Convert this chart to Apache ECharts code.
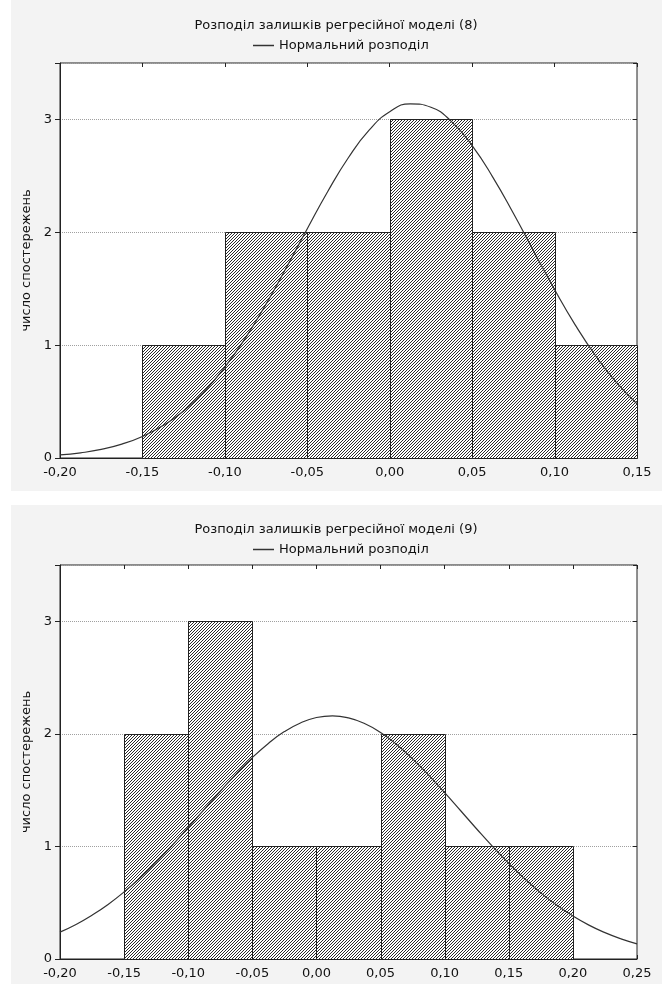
<!DOCTYPE html>
<html><head><meta charset="utf-8">
<script src="https://cdn.jsdelivr.net/npm/echarts@6/dist/echarts.min.js"></script>
<style>html,body{margin:0;padding:0;background:#fff}#c{width:662px;height:984px}</style>
</head><body><div id="c"></div>
<script>
// ---- Data ----
const title1 = 'Розподіл залишків регресійної моделі (8)';
const title2 = 'Розподіл залишків регресійної моделі (9)';
const legendName = 'Нормальний розподіл';
const yName = 'число спостережень';

// Chart 1 histogram
const binStart1 = [-0.15, -0.10, -0.05, 0.00, 0.05, 0.10];
const binEnd1   = [-0.10, -0.05, 0.00, 0.05, 0.10, 0.15];
const counts1   = [1, 2, 2, 3, 2, 1];
// Chart 1 normal curve
const curveX1 = [-0.2000,-0.1875,-0.1750,-0.1625,-0.1500,-0.1375,-0.1250,-0.1125,-0.1000,-0.0875,-0.0750,-0.0625,-0.0500,-0.0375,-0.0250,-0.0125,
                 0.0000,0.0125,0.0250,0.0375,0.0500,0.0625,0.0750,0.0875,0.1000,0.1125,0.1250,0.1375,0.1500];
const curveY1 = [0.027,0.046,0.076,0.123,0.191,0.287,0.417,0.589,0.805,1.064,1.364,1.692,2.032,2.364,2.663,2.905,
                 3.068,3.138,3.108,2.981,2.768,2.489,2.168,1.828,1.493,1.180,0.904,0.670,0.481];

// Chart 2 histogram
const binStart2 = [-0.15, -0.10, -0.05, 0.00, 0.05, 0.10, 0.15];
const binEnd2   = [-0.10, -0.05, 0.00, 0.05, 0.10, 0.15, 0.20];
const counts2   = [2, 3, 1, 1, 2, 1, 1];
// Chart 2 normal curve
const curveX2 = [-0.2000,-0.1875,-0.1750,-0.1625,-0.1500,-0.1375,-0.1250,-0.1125,-0.1000,-0.0875,-0.0750,-0.0625,-0.0500,-0.0375,-0.0250,-0.0125,
                 0.0000,0.0125,0.0250,0.0375,0.0500,0.0625,0.0750,0.0875,0.1000,0.1125,0.1250,0.1375,0.1500,0.1625,0.1750,0.1875,0.2000,0.2125,0.2250,0.2375,0.2500];
const curveY2 = [0.239,0.307,0.389,0.485,0.596,0.722,0.861,1.010,1.168,1.330,1.490,1.645,1.789,1.915,2.020,2.097,
                 2.145,2.160,2.142,2.092,2.012,1.906,1.778,1.633,1.478,1.317,1.155,0.998,0.850,0.712,0.587,0.477,0.382,0.301,0.234,0.179,0.135];

// Axis ranges / ticks
const xMin1 = -0.20, xMax1 = 0.15;
const xMin2 = -0.20, xMax2 = 0.25;
const xStep = 0.05;
const yMin = 0, yMax = 3.5, yStep = 1;

// ---- Build ----
const FONT = '"DejaVu Sans", "Liberation Sans", sans-serif';
const HS = 3;
const hatch = document.createElement('canvas');
hatch.width = HS; hatch.height = HS;
(function(){
  const g = hatch.getContext('2d');
  g.fillStyle = '#ffffff'; g.fillRect(0,0,HS,HS);
  g.fillStyle = '#2a2a2a';
  for (let i = 0; i < HS; i++) g.fillRect(i, HS-1-i, 1, 1);
})();
const hatchFill = {image: hatch, repeat: 'repeat'};

const bins1 = binStart1.map((s,i)=>[s, binEnd1[i], counts1[i]]);
const bins2 = binStart2.map((s,i)=>[s, binEnd2[i], counts2[i]]);
const line1 = curveX1.map((x,i)=>[x, curveY1[i]]);
const line2 = curveX2.map((x,i)=>[x, curveY2[i]]);

function fmtX(v){ if (Math.abs(v) < 1e-9) return '0,00'; return v.toFixed(2).replace('.', ','); }
function fmtY(v){ return Math.abs(v - Math.round(v)) < 1e-9 ? String(Math.round(v)) : ''; }

function renderBar(params, api){
  const x0 = api.value(0), x1 = api.value(1), c = api.value(2);
  const p0 = api.coord([x0, c]);
  const p1 = api.coord([x1, 0]);
  return {type:'rect', shape:{x:Math.round(p0[0])+0.5, y:Math.round(p0[1])+0.5, width:Math.round(p1[0])-Math.round(p0[0]), height:Math.round(p1[1])-Math.round(p0[1])},
    style:{fill: hatchFill, stroke:'#222', lineWidth:1}};
}

function xAxes(grid, min, max){
  return [
    {gridIndex:grid, type:'value', min:min, max:max, interval:xStep, position:'bottom',
     axisLine:{show:true, onZero:false, lineStyle:{color:'#222'}}, axisTick:{show:true, inside:true, length:4, lineStyle:{color:'#222'}},
     axisLabel:{formatter:fmtX, margin:8, color:'#111', fontSize:13, fontFamily:FONT}, splitLine:{show:false}},
    {gridIndex:grid, type:'value', min:min, max:max, interval:xStep, position:'top',
     axisLine:{show:false, onZero:false}, axisTick:{show:true, inside:true, length:4, lineStyle:{color:'#222'}},
     axisLabel:{show:false}, splitLine:{show:false}}
  ];
}
function yAxes(grid){
  return [
    {gridIndex:grid, type:'value', min:yMin, max:yMax, interval:yStep, position:'left',
     name:yName, nameLocation:'middle', nameGap:22, nameTextStyle:{color:'#111', fontSize:13, fontFamily:FONT},
     axisLine:{show:true, onZero:false, lineStyle:{color:'#222'}}, axisTick:{show:true, inside:false, length:5, lineStyle:{color:'#222'}},
     axisLabel:{formatter:fmtY, margin:8, color:'#111', fontSize:13, fontFamily:FONT},
     splitLine:{show:true, lineStyle:{type:'dotted', color:'#a0a0a0', width:1}}},
    {gridIndex:grid, type:'value', min:yMin, max:yMax, interval:yStep, position:'right',
     axisLine:{show:false, onZero:false}, axisTick:{show:true, inside:true, length:4, lineStyle:{color:'#222'}},
     axisLabel:{show:false}, splitLine:{show:false}}
  ];
}

const legendCommon = {data:[legendName], icon:'rect', left:253, padding:0, itemWidth:21, itemHeight:1.5, itemGap:5,
  itemStyle:{color:'#333', borderWidth:0}, lineStyle:{color:'#333', width:1.5},
  textStyle:{fontSize:13, color:'#111', fontFamily:FONT}};

const chart = echarts.init(document.getElementById('c'), null, {renderer:'canvas'});
chart.setOption({
  animation:false,
  backgroundColor:'#ffffff',
  graphic:[
    {type:'rect', z:-100, silent:true, shape:{x:11, y:0, width:651, height:491}, style:{fill:'#f3f3f3'}},
    {type:'rect', z:-100, silent:true, shape:{x:11, y:505, width:651, height:479}, style:{fill:'#f3f3f3'}}
  ],
  title:[
    {text:title1, left:336, textAlign:'center', top:19, padding:0, textStyle:{fontSize:13, fontWeight:'normal', color:'#111', fontFamily:FONT}},
    {text:title2, left:336, textAlign:'center', top:523, padding:0, textStyle:{fontSize:13, fontWeight:'normal', color:'#111', fontFamily:FONT}}
  ],
  legend:[
    Object.assign({}, legendCommon, {top:39}),
    Object.assign({}, legendCommon, {top:543})
  ],
  grid:[
    {left:60, right:25, top:63, height:395, show:true, backgroundColor:'#ffffff', borderColor:'#222', borderWidth:1},
    {left:60, right:25, top:565, height:394, show:true, backgroundColor:'#ffffff', borderColor:'#222', borderWidth:1}
  ],
  xAxis: xAxes(0, xMin1, xMax1).concat(xAxes(1, xMin2, xMax2)),
  yAxis: yAxes(0).concat(yAxes(1)),
  series:[
    {type:'custom', xAxisIndex:0, yAxisIndex:0, data:bins1, encode:{x:[0,1], y:2}, renderItem:renderBar, z:2, silent:true},
    {type:'line', name:legendName, xAxisIndex:0, yAxisIndex:0, data:line1, smooth:true, symbol:'none',
     lineStyle:{color:'#333', width:1.2}, itemStyle:{color:'#333'}, z:5},
    {type:'custom', xAxisIndex:2, yAxisIndex:2, data:bins2, encode:{x:[0,1], y:2}, renderItem:renderBar, z:2, silent:true},
    {type:'line', name:legendName, xAxisIndex:2, yAxisIndex:2, data:line2, smooth:true, symbol:'none',
     lineStyle:{color:'#333', width:1.2}, itemStyle:{color:'#333'}, z:5}
  ]
});
</script>
</body></html>
